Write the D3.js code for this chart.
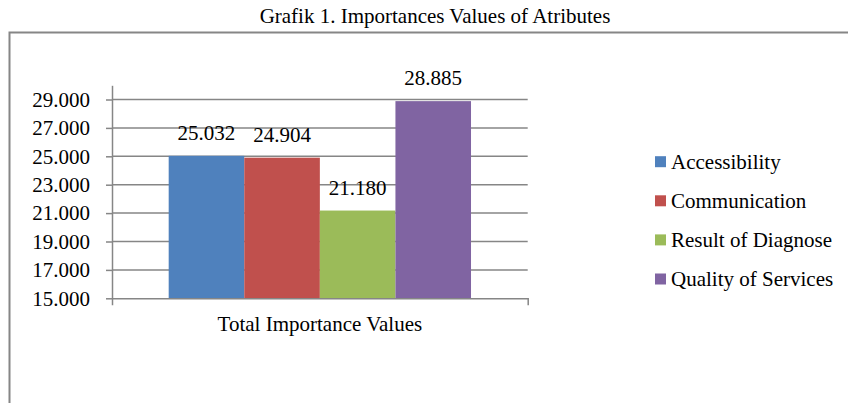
<!DOCTYPE html>
<html>
<head>
<meta charset="utf-8">
<script src="https://cdn.jsdelivr.net/npm/d3@7"></script>
<style>
  body { margin: 0; background: #fff; }
  text { font-family: "Liberation Serif", "Times New Roman", serif; fill: #000; }
</style>
</head>
<body>
<div id="chart"></div>
<script>
// data
var categories = ["Total Importance Values"];
var series = ["Accessibility", "Communication", "Result of Diagnose", "Quality of Services"];
var values = [25032, 24904, 21180, 28885];
var colours = ["#4F81BD", "#C0504D", "#9BBB59", "#8064A2"];
var tickValues = [15000, 17000, 19000, 21000, 23000, 25000, 27000, 29000];
var yDomain = [15000, 30000];
var title = "Grafik 1. Importances Values of Atributes";

var width = 848, height = 403;
var plotLeft = 112, plotRight = 527.7, plotTop = 85.3, plotBottom = 298.3;
var fontSize = 21;
var axisColour = "#868686";

var locale = d3.formatLocale({decimal: ",", thousands: ".", grouping: [3], currency: ["", ""]});
var fmt = locale.format(",.0f");

var svg = d3.select("#chart").append("svg")
  .attr("width", width)
  .attr("height", height);

// outer frame (runs off the right and bottom edges)
svg.append("rect")
  .attr("x", 9.5).attr("y", 32.5)
  .attr("width", 900).attr("height", 450)
  .attr("fill", "none")
  .attr("stroke", axisColour)
  .attr("stroke-width", 2);

svg.append("text")
  .attr("x", 435).attr("y", 23)
  .attr("text-anchor", "middle")
  .style("font-size", "21px")
  .text(title);

var y = d3.scaleLinear().domain(yDomain).range([plotBottom, plotTop]);
var x0 = d3.scaleBand().domain(categories).range([plotLeft, plotRight])
  .paddingInner(0).paddingOuter(0.1875);
var x1 = d3.scaleBand().domain(series).range([0, x0.bandwidth()]);

// gridlines
svg.append("g").selectAll("line")
  .data(tickValues.filter(function(d) { return d !== yDomain[0]; }))
  .enter().append("line")
  .attr("x1", plotLeft).attr("x2", plotRight)
  .attr("y1", function(d) { return y(d); })
  .attr("y2", function(d) { return y(d); })
  .attr("stroke", axisColour)
  .attr("stroke-width", 1.5);

// bars
var group = svg.append("g")
  .selectAll("g")
  .data(categories)
  .enter().append("g")
  .attr("transform", function(d) { return "translate(" + x0(d) + ",0)"; });

group.selectAll("rect")
  .data(series.map(function(s, i) { return {name: s, value: values[i], i: i}; }))
  .enter().append("rect")
  .attr("x", function(d) { return x1(d.name); })
  .attr("width", x1.bandwidth())
  .attr("y", function(d) { return y(d.value); })
  .attr("height", function(d) { return plotBottom - y(d.value); })
  .attr("fill", function(d) { return colours[d.i]; });

group.selectAll("text.val")
  .data(series.map(function(s, i) { return {name: s, value: values[i]}; }))
  .enter().append("text")
  .attr("class", "val")
  .attr("x", function(d) { return x1(d.name) + x1.bandwidth() / 2; })
  .attr("y", function(d) { return y(d.value) - 16; })
  .attr("text-anchor", "middle")
  .style("font-size", fontSize + "px")
  .text(function(d) { return fmt(d.value); });

// axes
var yAxis = svg.append("g")
  .attr("transform", "translate(" + plotLeft + ",0)")
  .call(d3.axisLeft(y).tickValues(tickValues).tickFormat(fmt)
    .tickSize(6).tickSizeOuter(0).tickPadding(16));

var xAxis = svg.append("g")
  .attr("transform", "translate(0," + plotBottom + ")")
  .call(d3.axisBottom(x0).tickSize(0).tickSizeOuter(7).tickPadding(17.5));

[yAxis, xAxis].forEach(function(a) {
  a.select(".domain").attr("stroke", axisColour).attr("stroke-width", 1.5);
  a.selectAll(".tick line").attr("stroke", axisColour).attr("stroke-width", 1.5);
  a.selectAll(".tick text")
    .attr("fill", "#000")
    .style("font-family", "\"Liberation Serif\", \"Times New Roman\", serif")
    .style("font-size", fontSize + "px");
});

// legend
var ly = d3.scalePoint().domain(series).range([161.7, 279]);
var legend = svg.append("g").selectAll("g")
  .data(series)
  .enter().append("g")
  .attr("transform", function(d) { return "translate(655," + ly(d) + ")"; });

legend.append("rect")
  .attr("x", 0).attr("y", -5.5)
  .attr("width", 11).attr("height", 11)
  .attr("fill", function(d, i) { return colours[i]; });

legend.append("text")
  .attr("x", 16).attr("y", 0)
  .attr("dy", "0.35em")
  .style("font-size", fontSize + "px")
  .text(function(d) { return d; });
</script>
</body>
</html>
